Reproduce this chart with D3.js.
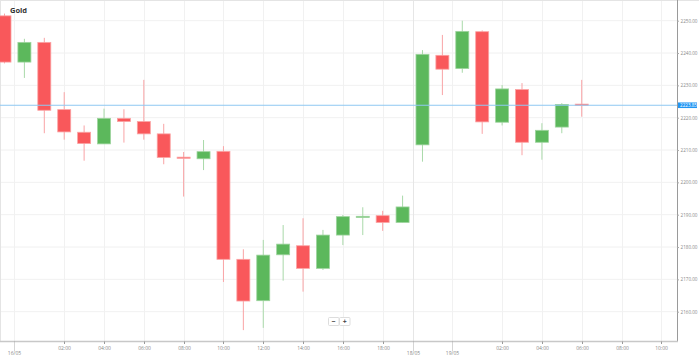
<meta charset="utf-8">
<style>
  body { margin: 0; background: #fff; }
  text { font-family: "Open Sans", "DejaVu Sans", sans-serif; }
  .grid line { stroke: #f1f1f1; stroke-width: 1; }
  .tick text { fill: #888; }
</style>
<body>
<script src="https://d3js.org/d3.v7.min.js"></script>
<script>
  // hourly candles, index 0..29
  const opens  = [2251.5, 2237.2, 2243.3, 2222.5, 2215.5, 2211.9, 2219.8, 2218.8, 2215.0, 2207.8,
                  2207.3, 2209.6, 2176.2, 2163.4, 2177.6, 2180.4, 2173.4, 2183.7, 2189.3, 2189.7,
                  2187.6, 2211.6, 2239.3, 2235.2, 2246.6, 2218.6, 2228.7, 2212.4, 2217.1, 2224.2];
  const highs  = [2252.2, 2244.4, 2244.7, 2227.9, 2217.6, 2222.8, 2222.6, 2231.7, 2218.1, 2209.4,
                  2213.1, 2211.2, 2179.3, 2182.2, 2186.8, 2188.9, 2185.3, 2189.9, 2192.3, 2191.2,
                  2195.9, 2240.9, 2245.6, 2250.0, 2247.0, 2230.1, 2230.7, 2218.3, 2224.5, 2231.7];
  const lows   = [2236.8, 2232.3, 2215.2, 2213.2, 2206.7, 2211.9, 2212.3, 2213.2, 2205.6, 2195.6,
                  2203.8, 2169.2, 2154.3, 2155.0, 2169.6, 2166.2, 2172.9, 2180.6, 2183.7, 2185.0,
                  2187.6, 2206.4, 2227.0, 2233.9, 2215.0, 2217.6, 2208.4, 2207.0, 2215.2, 2220.3];
  const closes = [2237.2, 2243.3, 2222.3, 2215.6, 2212.0, 2219.8, 2218.8, 2215.0, 2207.7, 2207.5,
                  2209.5, 2176.2, 2163.3, 2177.5, 2180.9, 2173.4, 2183.7, 2189.4, 2189.5, 2187.6,
                  2192.4, 2239.6, 2235.0, 2246.7, 2218.7, 2228.9, 2212.4, 2216.1, 2224.1, 2223.85];

  const lastPrice = 2223.85;
  const priceTicks = [2160, 2170, 2180, 2190, 2200, 2210, 2220, 2230, 2240, 2250];
  // time axis: position in candle index units
  const timeTickPos    = [3, 5, 7, 9, 11, 13, 15, 17, 19, 25, 27, 29, 31, 33];
  const timeTickLabels = ["02:00", "04:00", "06:00", "08:00", "10:00", "12:00", "14:00", "16:00", "18:00",
                          "02:00", "04:00", "06:00", "08:00", "10:00"];
  const dateTickPos    = [0.5, 20.5, 22.5];
  const dateTickLabels = ["16/05", "18/05", "19/05"];

  const data = opens.map((o, i) => ({ i, o, h: highs[i], l: lows[i], c: closes[i] }));

  const W = 699, H = 360;
  const plotR = 677, plotB = 341.5;

  const svg = d3.select("body").append("svg")
    .attr("width", W).attr("height", H);

  const x = d3.scaleLinear().domain([0, 29]).range([4.5, 4.5 + 19.904 * 29]);
  const y = d3.scaleLinear().domain([2160, 2250]).range([311.7, 20.7]);

  // clip to plot
  svg.append("clipPath").attr("id", "plot")
    .append("rect").attr("x", 0).attr("y", 1).attr("width", plotR).attr("height", plotB - 1);

  // grid
  const grid = svg.append("g").attr("class", "grid");
  grid.selectAll(".h").data(priceTicks).join("line")
    .attr("x1", 0).attr("x2", plotR)
    .attr("y1", d => y(d)).attr("y2", d => y(d));
  grid.selectAll(".v").data(timeTickPos.concat(dateTickPos)).join("line")
    .attr("x1", d => Math.round(x(d)) + 0.5).attr("x2", d => Math.round(x(d)) + 0.5)
    .attr("y1", 1).attr("y2", plotB)
    .style("stroke", (d, i) => d === 20.5 ? "#e6e6e6" : null);

  // borders
  svg.append("line").attr("x1", 0).attr("x2", W).attr("y1", 0.5).attr("y2", 0.5)
    .attr("stroke", "#e4e4e4");
  svg.append("line").attr("x1", 0.5).attr("x2", 0.5).attr("y1", 0).attr("y2", plotB)
    .attr("stroke", "#e4e4e4");

  // candles
  const up = "#5cb85c", down = "#f9585b";
  const candles = svg.append("g").attr("clip-path", "url(#plot)")
    .selectAll("g").data(data).join("g");

  candles.append("line")
    .attr("x1", d => x(d.i)).attr("x2", d => x(d.i))
    .attr("y1", d => y(d.h)).attr("y2", d => y(d.l))
    .attr("stroke", d => d.c >= d.o ? "#a9d9a9" : "#f9a3a5")
    .attr("stroke-width", 1);

  candles.append("rect")
    .attr("x", d => x(d.i) - 6.5)
    .attr("width", 13)
    .attr("y", d => y(Math.max(d.o, d.c)))
    .attr("height", d => Math.max(1.2, Math.abs(y(d.o) - y(d.c))))
    .attr("fill", d => d.c >= d.o ? up : down)
    .attr("stroke", d => d.c >= d.o ? "#9ed49e" : "#fba3a4")
    .attr("stroke-width", 0.8);

  // current price line
  svg.append("line")
    .attr("x1", 0).attr("x2", plotR)
    .attr("y1", y(lastPrice)).attr("y2", y(lastPrice))
    .attr("stroke", "#8fc8f2").attr("stroke-width", 1);

  // right axis
  const yAxis = svg.append("g")
    .attr("transform", `translate(${plotR},0)`)
    .call(d3.axisRight(y).tickValues(priceTicks).tickSize(2).tickPadding(1.5)
      .tickFormat(d3.format(".2f")));
  yAxis.select(".domain").attr("stroke", "#9a9a9a").attr("d", `M0.5,0V${plotB}`);
  yAxis.selectAll(".tick line").attr("stroke", "#aaa");
  yAxis.selectAll(".tick text").style("font-size", "4.6px");

  // price label
  const pl = svg.append("g").attr("transform", `translate(${plotR + 1},${y(lastPrice)})`);
  pl.append("rect").attr("x", 0).attr("y", -2.8).attr("width", 19).attr("height", 5.6)
    .attr("fill", "#2196f3");
  pl.append("text").attr("x", 2).attr("y", 0).attr("dy", "0.35em")
    .style("font-size", "4.6px").attr("fill", "#fff")
    .text(d3.format(".2f")(lastPrice));

  // bottom axis
  svg.append("line").attr("x1", 0).attr("x2", plotR + 1)
    .attr("y1", plotB).attr("y2", plotB)
    .attr("stroke", "#c8c8c8").attr("stroke-width", 1.6);

  const tx = svg.append("g").selectAll("g").data(timeTickPos).join("g")
    .attr("class", "tick")
    .attr("transform", d => `translate(${Math.round(x(d)) + 0.5},${plotB})`);
  tx.append("line").attr("y1", 0).attr("y2", 2.5).attr("stroke", "#999");
  tx.append("text").attr("y", 6.5).attr("dy", "0.35em").attr("text-anchor", "middle")
    .style("font-size", "5px")
    .text((d, i) => timeTickLabels[i]);

  const dx = svg.append("g").selectAll("g").data(dateTickPos).join("g")
    .attr("class", "tick")
    .attr("transform", d => `translate(${Math.round(x(d)) + 0.5},${plotB})`);
  dx.append("line").attr("y1", 0).attr("y2", 9).attr("stroke", "#aaa")
    .attr("stroke-dasharray", "1,1");
  dx.append("text").attr("y", 12).attr("dy", "0.35em").attr("text-anchor", "middle")
    .style("font-size", "5px")
    .text((d, i) => dateTickLabels[i]);

  // zoom buttons
  const zb = svg.append("g").attr("transform", "translate(328,317)");
  ["\u2212", "+"].forEach((s, i) => {
    zb.append("rect").attr("x", i * 11 + 0.5).attr("y", 0.5).attr("width", 10.5).attr("height", 8)
      .attr("fill", "#fff").attr("stroke", "#ddd").attr("rx", 1);
    zb.append("text").attr("x", i * 11 + 5.75).attr("y", 4.5).attr("dy", "0.35em")
      .attr("text-anchor", "middle").style("font-size", "7px").style("font-weight", "bold")
      .attr("fill", "#444").text(s);
  });

  // title
  svg.append("text").attr("x", 10).attr("y", 12.5)
    .style("font-size", "7.5px").style("font-weight", "bold").attr("fill", "#333")
    .text("Gold");
</script>
</body>
</html>
